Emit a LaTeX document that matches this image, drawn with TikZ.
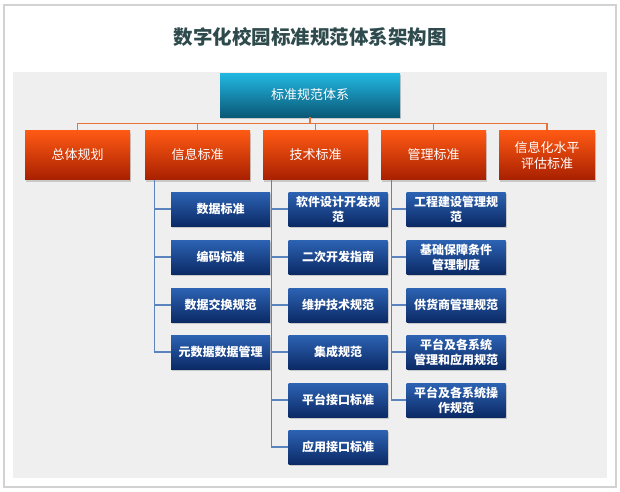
\documentclass[tikz,border=0pt]{standalone}
\usepackage{fontspec}
\setmainfont{Noto Sans CJK SC}
\usetikzlibrary{shadows}
\definecolor{titlec}{HTML}{2E4A4C}
\definecolor{rootT}{HTML}{22B8E2}
\definecolor{rootB}{HTML}{0B5877}
\definecolor{orT}{HTML}{FF5A14}
\definecolor{orB}{HTML}{A82000}
\definecolor{blT}{HTML}{2D63B4}
\definecolor{blB}{HTML}{0B2A66}
\definecolor{ocl}{HTML}{E8743B}
\definecolor{bcl}{HTML}{5B84BE}
\definecolor{panel}{HTML}{EFEFEF}
\definecolor{cardb}{HTML}{D2D2D2}
\tikzset{
  boxbase/.style={rectangle, inner sep=0pt, align=center, text=white,
    drop shadow={opacity=0.35, shadow xshift=1pt, shadow yshift=-2pt}},
  rootbox/.style={boxbase, minimum width=180pt, minimum height=44pt,
    top color=rootT, bottom color=rootB, font=\fontsize{13}{15}\selectfont},
  lvone/.style={boxbase, minimum width=105pt, minimum height=49pt,
    top color=orT, bottom color=orB, font=\fontsize{13}{16}\selectfont},
  lvtwo/.style={boxbase, minimum width=99pt, minimum height=34pt,
    top color=blT, bottom color=blB, font=\bfseries\fontsize{12}{15}\selectfont},
  oline/.style={draw=ocl, line width=1.3pt},
  bline/.style={draw=bcl, line width=1.3pt}
}
\begin{document}
\begin{tikzpicture}[x=1pt, y=-1pt]
\useasboundingbox (0,0) rectangle (620,491);
\fill[white] (0,0) rectangle (620,491);
\draw[cardb, line width=2pt, fill=white] (4,5) rectangle (616,487);
\fill[panel] (13,72) rectangle (607,478);
\node[font=\bfseries\fontsize{19.5}{22}\selectfont, text=titlec] (title) at (310,37) {数字化校园标准规范体系架构图};

\node[rootbox] (root) at (310,95) {标准规范体系};

\node[lvone] (zt) at (77.5,155) {总体规划};
\node[lvone] (xx) at (197.5,155) {信息标准};
\node[lvone] (js) at (315.5,155) {技术标准};
\node[lvone] (gl) at (433.5,155) {管理标准};
\node[lvone, minimum width=96pt] (pg) at (547,155) {信息化水平\\评估标准};

\foreach \n in {zt,xx,js,gl,pg}
  \draw[oline] (root.south) -- ++(0,6) -| (\n.north);

% column 1
\node[lvtwo] (a1) at (220.5,209) {数据标准};
\node[lvtwo] (a2) at (220.5,257) {编码标准};
\node[lvtwo] (a3) at (220.5,305) {数据交换规范};
\node[lvtwo] (a4) at (220.5,352) {元数据数据管理};
% column 2
\node[lvtwo] (b1) at (338,209) {软件设计开发规\\范};
\node[lvtwo] (b2) at (338,257) {二次开发指南};
\node[lvtwo] (b3) at (338,305) {维护技术规范};
\node[lvtwo] (b4) at (338,352) {集成规范};
\node[lvtwo] (b5) at (338,400) {平台接口标准};
\node[lvtwo] (b6) at (338,447) {应用接口标准};
% column 3
\node[lvtwo] (c1) at (456,209) {工程建设管理规\\范};
\node[lvtwo] (c2) at (456,257) {基础保障条件\\管理制度};
\node[lvtwo] (c3) at (456,305) {供货商管理规范};
\node[lvtwo] (c4) at (456,352) {平台及各系统\\管理和应用规范};
\node[lvtwo] (c5) at (456,400) {平台及各系统操\\作规范};

\foreach \n in {a1,a2,a3,a4}
  \draw[bline] (xx.south west) ++(10,0) |- (\n.west);
\foreach \n in {b1,b2,b3,b4,b5,b6}
  \draw[bline] (js.south west) ++(9,0) |- (\n.west);
\foreach \n in {c1,c2,c3,c4,c5}
  \draw[bline] (gl.south west) ++(11,0) |- (\n.west);
\end{tikzpicture}
\end{document}
